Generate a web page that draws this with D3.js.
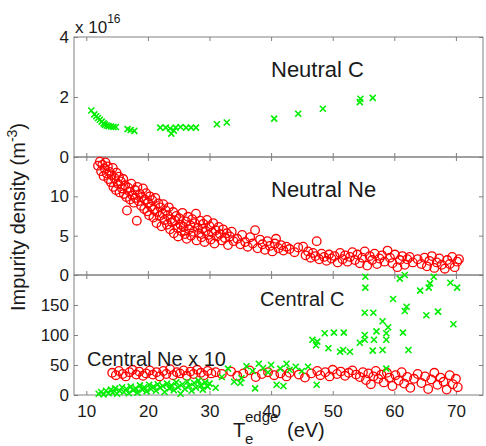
<!DOCTYPE html>
<html>
<head>
<meta charset="utf-8">
<script src="https://cdn.jsdelivr.net/npm/d3@7"></script>
<style>
  body { margin: 0; background: #fff; }
  text { font-family: "Liberation Sans", Arial, sans-serif; fill: #1a1a1a; }
  .axis path { display: none; }
  .axis line { stroke: #808080; }
</style>
</head>
<body>
<div class="display"></div>
<script>
// three stacked panels sharing the edge temperature axis

const WIDTH = 486;
const HEIGHT = 446;
const LEFT = 74;
const RIGHT = 483;

// x axis (edge electron temperature, eV)
const xDomain = [8, 74.4];
const xTicks = [10, 20, 30, 40, 50, 60, 70];

// panel y ranges and ticks
const neutralCTicks = [0, 2, 4];
const neutralNeTicks = [0, 5, 10];
const centralTicks = [0, 50, 100, 150];

// Neutral C, units of 1e16 m^-3  [Te, n]
const neutralC = [
  [10.8,1.55],[11.3,1.42],[11.6,1.36],[11.9,1.30],[12.2,1.24],[12.5,1.18],[12.8,1.12],[13.0,1.08],
  [13.3,1.05],[13.6,1.03],[14.0,1.02],[14.4,1.0],[14.8,1.0],[16.7,0.93],[17.2,0.9],[17.8,0.87],
  [22.0,0.98],[22.9,0.98],[23.6,0.95],[23.8,0.78],[24.2,0.88],[24.5,0.98],[25.3,1.0],[26.2,0.98],
  [27.0,0.98],[27.8,0.98],[31.2,1.09],[32.8,1.15],[40.5,1.28],[44.4,1.44],[48.4,1.61],[54.4,1.83],
  [54.5,1.94],[56.5,1.97]
];

// Neutral Ne, units of 1e16 m^-3  [Te, n]
const neutralNe = [
  [11.9,13.9],[12.2,14.4],[12.4,13.2],[12.6,14.0],[12.8,12.6],[13.0,13.5],[13.1,14.3],[13.3,12.9],[13.5,13.8],[13.6,12.2],
  [13.8,13.1],[14.0,11.8],[14.1,12.7],[14.3,13.6],[14.4,11.2],[14.6,12.3],[14.8,10.8],[14.9,13.0],[15.1,11.6],[15.3,12.5],[15.4,10.5],
  [15.6,11.9],[15.8,11.0],[16.0,12.2],[16.1,10.3],[16.3,11.4],[16.5,9.9],[16.6,8.2],[16.8,11.1],[17.0,10.6],[17.1,9.6],[17.3,11.6],[17.5,10.1],
  [17.7,9.2],[17.9,10.8],[18.0,9.8],[18.2,6.9],[18.3,11.2],[18.5,9.4],[18.7,10.3],[18.9,8.8],[19.0,9.9],[19.2,11.0],[19.4,8.4],[19.5,9.6],[19.7,10.4],[19.9,8.1],[20.0,9.2],
  [20.2,7.6],[20.3,10.0],[20.5,8.7],[20.7,9.5],[20.9,7.3],[21.0,8.3],[21.2,9.8],[21.4,6.6],[21.5,8.0],[21.7,9.1],[21.9,7.5],[22.0,8.6],[22.2,6.2],[22.4,7.8],[22.5,9.0],[22.7,7.0],[22.9,8.2],
  [23.1,6.4],[23.2,7.6],[23.4,8.6],[23.6,5.8],[23.7,7.1],[23.9,6.7],[24.1,8.0],[24.2,5.3],[24.4,6.9],[24.6,7.5],[24.8,6.0],[24.9,4.9],[25.1,7.2],[25.3,6.4],[25.4,5.6],[25.6,7.9],[25.8,6.1],[26.0,5.2],
  [26.2,6.8],[26.3,4.6],[26.5,7.4],[26.7,5.8],[26.9,6.3],[27.0,5.0],[27.2,7.1],[27.4,5.5],[27.6,6.6],[27.8,7.8],[27.9,4.4],[28.1,6.0],[28.3,5.3],[28.5,6.9],[28.7,4.8],[28.9,5.9],[29.0,6.5],[29.2,4.2],[29.4,5.6],[29.6,7.0],[29.8,5.1],
  [30.0,6.2],[30.2,4.5],[30.4,5.4],[30.6,6.6],[30.8,4.0],[31.0,5.7],[31.2,4.9],[31.5,6.1],[31.7,5.2],[32.0,4.4],[32.2,5.8],[32.5,4.7],[32.8,5.3],[33.0,3.8],[33.3,4.9],[33.6,5.5],[33.9,4.3],
  [34.5,4.6],[35.0,3.9],[35.3,5.1],[35.8,4.2],[36.2,3.6],[36.6,4.8],[37.0,4.0],[37.4,5.7],[37.8,3.4],[38.2,4.5],[38.6,3.9],[39.0,3.2],[39.4,4.3],[39.8,3.7],[40.2,3.0],[40.6,4.0],[40.8,4.6],[41.2,3.4],[41.6,3.8],[42.0,3.1],[42.5,3.6],[43.0,3.3],[43.8,2.9],[44.4,3.5],
  [45.2,3.6],[45.6,2.5],[46.0,3.0],[46.4,2.2],[46.8,2.8],[47.2,2.4],[47.4,4.3],[47.8,2.0],[48.2,2.7],[48.6,2.3],[49.0,1.8],[49.4,2.6],[49.8,2.1],
  [50.3,2.4],[50.8,1.6],[51.2,2.8],[51.6,2.0],[52.0,2.5],[52.4,1.7],[52.8,2.3],[53.2,2.9],[53.6,1.9],[54.0,2.6],[54.4,1.5],[54.8,2.2],[55.2,3.0],[55.6,1.2],[56.0,2.4],[56.4,1.9],[56.8,2.7],[57.2,1.4],[57.6,2.1],[58.0,2.5],[58.4,1.7],[58.9,3.1],[59.3,2.2],[59.7,1.5],[60.1,2.6],[60.5,1.0],[60.9,1.9],[61.3,2.4],[61.7,1.3],[62.1,2.0],[62.5,2.3],[63.0,1.6],[63.8,2.0],[64.4,1.4],[64.9,2.2],[65.3,1.1],[65.7,1.8],[66.1,2.4],[66.5,0.9],[66.9,1.6],[67.3,2.1],[67.7,1.3],[68.2,0.8],[68.6,1.9],[69.0,1.4],[69.4,2.3],[69.8,1.0],[70.2,1.7],[70.5,2.0]
];

// Central Ne (x10), same units as central C  [Te, n]
const centralNe = [
  [14.2,37],[14.8,33],[15.3,40],[15.9,35],[16.4,31],[17.0,38],[17.5,42],[18.1,34],[18.6,39],[19.2,32],[19.7,36],[20.3,41],[20.8,34],[21.4,38],[21.9,31],[22.5,40],[23.0,35],[23.6,43],[24.1,33],[24.7,38],[25.2,36],[25.8,41],[26.3,32],[26.9,39],[27.4,35],[28.0,42],[28.6,37],[29.1,33],[29.7,40],[30.3,36],[31.0,38],[32.0,35],
  [33.5,39],[34.5,32],[35.5,36],[36.5,41],[37.5,30],[38.5,35],[39.5,38],[40.5,33],[41.5,36],[42.5,31],[43.0,37],[44.5,34],[45.5,29],[46.5,36],[47.5,40],[48.0,33],[48.8,38],[49.5,31],[50.0,42],[50.7,35],[51.3,39],[52.0,32],[52.6,37],[53.2,41],[53.8,34],[54.4,30],[54.9,38],
  [55.4,25],[55.8,36],[56.2,18],[56.6,31],[57.0,40],[57.4,27],[57.9,34],[58.3,21],[58.8,37],[59.2,29],[59.7,15],[60.2,33],[60.7,24],[61.2,38],[61.6,19],[62.1,30],[62.6,12],[63.2,27],[63.8,35],[64.4,20],[65.0,31],[65.5,10],[66.0,26],[66.5,37],[67.0,17],[67.5,29],[68.0,22],[68.5,9],[69.0,33],[69.5,18],[70.0,27],[70.3,13]
];

// Central C  [Te, n]
const centralC = [
  [12.0,2],[12.4,5],[12.8,1],[13.2,7],[13.6,3],[14.0,9],[14.3,4],[14.7,11],[15.0,2],[15.4,7],[15.8,13],[16.1,5],[16.5,10],[16.9,3],[17.2,14],[17.6,8],[18.0,11],[18.3,4],[18.7,16],[19.1,9],[19.4,13],[19.8,6],[20.2,17],[20.5,10],[20.9,14],[21.3,7],[21.6,18],[22.0,12],[22.4,15],[22.7,5],[23.1,19],[23.5,11],[23.8,16],[24.2,8],[24.6,21],[24.9,13],[25.3,2],[25.6,18],[26.0,10],[26.4,22],[26.7,15],[27.1,7],[27.5,20],[27.8,12],[28.2,24],[28.6,16],[28.9,9],[29.3,21],[29.7,14],[30.0,19],
  [31.0,12],[32.0,30],[33.0,44],[34.0,22],[35.0,20],[35.2,28],[36.0,48],[37.0,40],[37.4,11],[38.0,52],[38.7,45],[39.5,38],[40.0,50],[40.9,17],[41.5,44],[42.0,15],[42.5,52],[43.0,42],[44.0,47],[45.0,40],[46.0,47],[47.4,17],
  [46.7,92],[47.3,83],[47.5,89],[48.7,103],[49.3,78],[50.2,104],[51.2,72],[51.7,75],[51.8,104],[52.8,72],[54.4,87],[55.2,100],[55.2,92],[55.2,137],[55.3,179],[55.3,197],[56.5,74],[56.6,137],[56.7,92],[57.1,106],[58.1,75],[58.1,123],[58.7,103],[58.7,92],[58.7,44],[59.0,113],[59.8,160],[60.9,194],[61.4,104],[61.7,140],[61.7,200],[62.0,147],[62.3,75],[64.2,174],[65.2,133],[65.6,179],[65.8,186],[66.4,197],[67.1,139],[69.1,187],[69.6,118],[70.2,179]
];

const panelDefs = [
  { top: 37, bottom: 157, domain: [0, 4], ticks: neutralCTicks },
  { top: 157, bottom: 275, domain: [0, 15], ticks: neutralNeTicks },
  { top: 275, bottom: 395, domain: [0, 200], ticks: centralTicks }
];

let svg, x;

function setupSvg() {
  svg = d3.select('.display')
    .append('svg')
    .attr('width', WIDTH)
    .attr('height', HEIGHT);
  x = d3.scaleLinear().domain(xDomain).range([LEFT, RIGHT]);
}

function drawPanel(p, i) {
  const y = d3.scaleLinear().domain(p.domain).range([p.bottom, p.top]);
  p.y = y;
  const g = svg.append('g');

  g.append('rect')
    .attr('x', LEFT).attr('y', p.top)
    .attr('width', RIGHT - LEFT).attr('height', p.bottom - p.top)
    .attr('fill', 'none').attr('stroke', '#808080').attr('stroke-width', 1);

  g.append('g').attr('class', 'axis')
    .attr('transform', `translate(${LEFT},0)`)
    .call(d3.axisLeft(y).tickValues(p.ticks).tickFormat(d => d).tickSizeInner(-4).tickSizeOuter(0).tickPadding(5))
    .selectAll('text').style('font-size', '17px').attr('fill', '#1a1a1a');

  g.append('g').attr('class', 'axis')
    .attr('transform', `translate(${RIGHT},0)`)
    .call(d3.axisRight(y).tickValues(p.ticks).tickSizeInner(-4).tickSizeOuter(0).tickFormat(''));

  g.append('g').attr('class', 'axis')
    .attr('transform', `translate(0,${p.top})`)
    .call(d3.axisTop(x).tickValues(xTicks).tickSizeInner(-4).tickSizeOuter(0).tickFormat(''));

  const bottomAxis = d3.axisBottom(x).tickValues(xTicks).tickFormat(d => d)
    .tickSizeInner(-4).tickSizeOuter(0).tickPadding(10);
  if (i < 2) bottomAxis.tickFormat('');
  g.append('g').attr('class', 'axis')
    .attr('transform', `translate(0,${p.bottom})`)
    .call(bottomAxis)
    .selectAll('text').style('font-size', '17px').attr('fill', '#1a1a1a');
}

function drawCircles(data, y) {
  svg.append('g').selectAll('circle')
    .data(data)
    .enter()
    .append('circle')
    .attr('cx', d => x(d[0]))
    .attr('cy', d => y(d[1]))
    .attr('r', 4.3)
    .attr('fill', 'none')
    .attr('stroke', '#ff0000')
    .attr('stroke-width', 1.3);
}

function drawCrosses(data, y) {
  const s = 3;
  svg.append('g').selectAll('path')
    .data(data)
    .enter()
    .append('path')
    .attr('d', d => {
      const cx = x(d[0]), cy = y(d[1]);
      return `M${cx - s},${cy - s}L${cx + s},${cy + s}M${cx - s},${cy + s}L${cx + s},${cy - s}`;
    })
    .attr('fill', 'none')
    .attr('stroke', '#00ee00')
    .attr('stroke-width', 1.6);
}

function drawLabels() {
  const label = (tx, ty, str, size) => svg.append('text')
    .attr('x', tx).attr('y', ty).style('font-size', size + 'px').text(str);

  label(271, 77, 'Neutral C', 22);
  label(271, 197, 'Neutral Ne', 22);
  label(260, 306, 'Central C', 20);
  label(87, 366, 'Central Ne x 10', 20);

  // exponent of the top panel
  const ex = svg.append('text').attr('x', 75).attr('y', 33).style('font-size', '17px');
  ex.append('tspan').text('x 10');
  ex.append('tspan').attr('dy', -10).style('font-size', '12px').text('16');

  // y label
  const yl = svg.append('text')
    .attr('transform', 'translate(25,217) rotate(-90)')
    .attr('text-anchor', 'middle')
    .style('font-size', '20px');
  yl.append('tspan').text('Impurity density (m');
  yl.append('tspan').attr('dy', -8).style('font-size', '14px').text('-3');
  yl.append('tspan').attr('dy', 8).text(')');

  // x label T_e^edge (eV)
  label(233, 437, 'T', 20);
  label(245, 444, 'e', 15);
  label(245, 422, 'edge', 15);
  label(287, 437, '(eV)', 20);
}

setupSvg();
panelDefs.forEach(drawPanel);
drawCrosses(neutralC, panelDefs[0].y);
drawCircles(neutralNe, panelDefs[1].y);
drawCircles(centralNe, panelDefs[2].y);
drawCrosses(centralC, panelDefs[2].y);
drawLabels();
</script>
</body>
</html>
